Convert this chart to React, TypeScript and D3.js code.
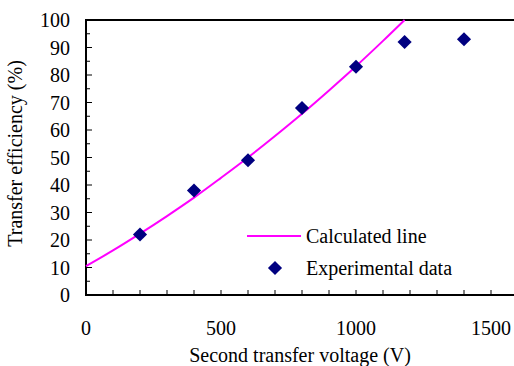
import * as d3 from "d3";

// Experimental data points
const voltages = [200, 400, 600, 800, 1000, 1180, 1400];
const efficiencies = [22, 38, 49, 68, 83, 92, 93];

// Calculated line
const calcVoltages = [0, 100, 200, 300, 400, 500, 600, 700, 800, 900, 1000, 1100, 1180];
const calcEfficiencies = [10.5, 16.2, 22.3, 28.7, 35.4, 42.6, 50, 57.8, 65.9, 74.4, 83.2, 92.4, 100];

const xTicks = [0, 500, 1000, 1500];
const yTicks = [0, 10, 20, 30, 40, 50, 60, 70, 80, 90, 100];

const TXT = { fontFamily: "'Liberation Serif', 'Times New Roman', serif", fontSize: 20 };

const left = 86;
const top = 20;
const bottom = 295;

const x = d3.scaleLinear().domain([0, 1600]).range([left, left + 432]);
const y = d3.scaleLinear().domain([0, 100]).range([bottom, top]);

const line = d3
  .line<number>()
  .x((_, i) => x(calcVoltages[i]))
  .y((d) => y(d))
  .curve(d3.curveMonotoneX);

const diamond = d3.symbol().type(d3.symbolSquare).size(100)() as string;

export default function App() {
  return (
    <svg
      width={514}
      height={366}
      style={{ position: "absolute", left: 0, top: 0, background: "#fff" }}
    >
      {/* Frame: left, top, bottom (right edge falls outside the image) */}
      <path
        d={`M${x(1600)},${top}H${left}V${bottom}H${x(1600)}`}
        fill="none"
        stroke="#000"
        strokeWidth={2}
      />

      {/* Y ticks, inside, every 5 */}
      {d3.range(5, 100, 5).map((v) => (
        <line
          key={`yt${v}`}
          x1={left}
          x2={left + (v % 10 === 0 ? 6 : 4)}
          y1={y(v)}
          y2={y(v)}
          stroke="#000"
        />
      ))}

      {/* X ticks, inside, every 100 */}
      {d3.range(100, 1600, 100).map((v) => (
        <line key={`xt${v}`} x1={x(v)} x2={x(v)} y1={bottom} y2={bottom - 5} stroke="#000" />
      ))}

      {yTicks.map((t) => (
        <text key={`yl${t}`} x={70} y={y(t)} dy="0.35em" textAnchor="end" style={TXT}>
          {t}
        </text>
      ))}

      {xTicks.map((t) => (
        <text key={`xl${t}`} x={x(t)} y={335} textAnchor="middle" style={TXT}>
          {t}
        </text>
      ))}

      <text x={x(800) - 2} y={362} textAnchor="middle" style={TXT}>
        Second transfer voltage (V)
      </text>
      <text
        transform={`translate(22, ${(top + bottom) / 2 - 4}) rotate(-90)`}
        textAnchor="middle"
        style={TXT}
      >
        Transfer efficiency (%)
      </text>

      <path d={line(calcEfficiencies) ?? ""} fill="none" stroke="#ff00ff" strokeWidth={2} />

      {efficiencies.map((d, i) => (
        <path
          key={`pt${i}`}
          d={diamond}
          transform={`translate(${x(voltages[i])},${y(d)}) rotate(45)`}
          fill="#000080"
        />
      ))}

      {/* Legend */}
      <line x1={247} x2={301} y1={236} y2={236} stroke="#ff00ff" strokeWidth={2} />
      <text x={306} y={236} dy="0.35em" style={TXT}>
        Calculated line
      </text>
      <path d={diamond} transform="translate(275,268) rotate(45)" fill="#000080" />
      <text x={306} y={268} dy="0.35em" style={TXT}>
        Experimental data
      </text>
    </svg>
  );
}
